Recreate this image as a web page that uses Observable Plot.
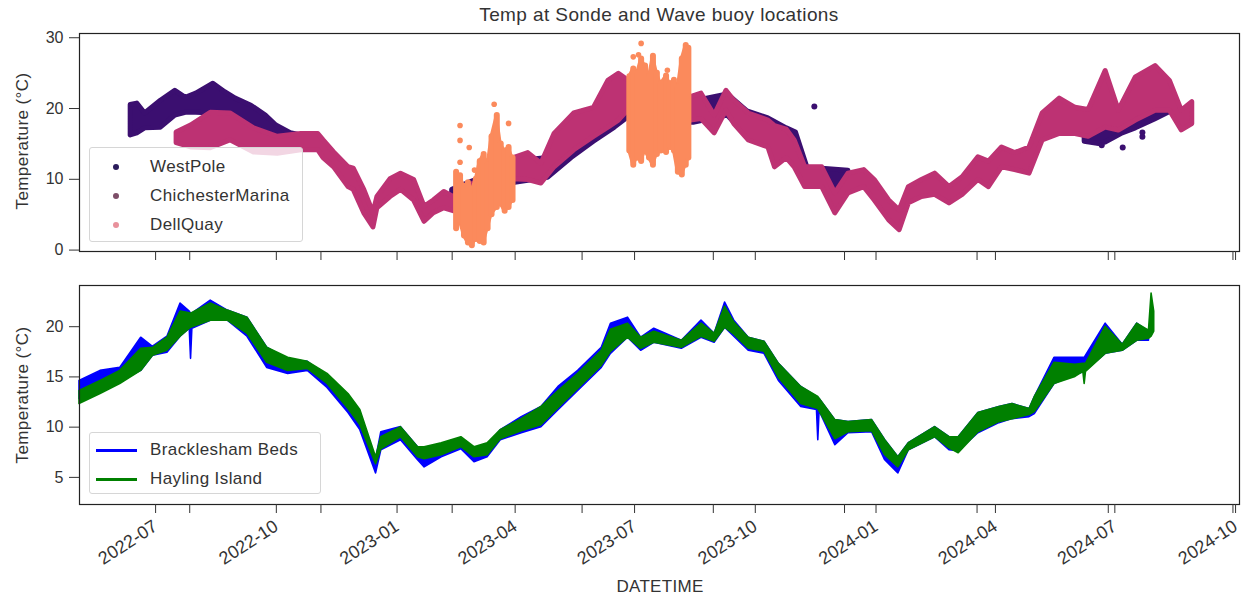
<!DOCTYPE html>
<html>
<head>
<meta charset="utf-8">
<script src="https://cdn.jsdelivr.net/npm/d3@7"></script>
<script src="https://cdn.jsdelivr.net/npm/@observablehq/plot@0.6"></script>
<style>
  body { margin: 0; background: #fff; font-family: "Liberation Sans", Arial, sans-serif; color: #333; }
  #fig { position: relative; width: 1241px; height: 598px; overflow: hidden; background: #fff; }
  #fig svg { position: absolute; left: 0; }
  .title { position: absolute; left: 0; width: 1318px; top: 4px; text-align: center; font-size: 19px; letter-spacing: 0.4px; }
  .xlabel { position: absolute; left: 0; width: 1320px; top: 577px; text-align: center; font-size: 17px; letter-spacing: 0.3px; }
  .ylabel { position: absolute; width: 200px; text-align: center; font-size: 17px; transform: rotate(-90deg); letter-spacing: 0.4px; }
  .legend { position: absolute; border: 1px solid #d6d6d6; border-radius: 3px; background: rgba(255,255,255,0.8); font-size: 17px; box-sizing: border-box; }
  .legend .row { position: absolute; left: 0; white-space: nowrap; }
  .legend .dot { position: absolute; width: 6px; height: 6px; border-radius: 50%; }
  .legend .swatch { position: absolute; width: 41px; height: 3px; }
  .legend .txt { position: absolute; left: 60px; top: -10px; letter-spacing: 0.4px; }
</style>
</head>
<body>
<div id="fig">
  <div class="title">Temp at Sonde and Wave buoy locations</div>
  <div class="ylabel" style="left:-77px; top:131px;">Temperature (°C)</div>
  <div class="ylabel" style="left:-77px; top:385px;">Temperature (°C)</div>
  <div class="xlabel">DATETIME</div>
</div>
<script>
// Sonde temperature bands: [date, low, high] in °C
const westPole2022 = [
  ["2022-06-12",16.2,20.5],["2022-06-17",16.5,20.7],["2022-06-23",17.2,19.3],["2022-07-05",17.3,21.1],
  ["2022-07-16",19.0,22.5],["2022-07-24",19.4,21.5],["2022-08-01",19.4,22.1],["2022-08-14",19.3,23.5],
  ["2022-08-23",19.3,22.3],["2022-08-31",18.6,21.4],["2022-09-12",17.6,20.4],["2022-09-23",16.2,19.0],
  ["2022-10-01",15.5,17.6],["2022-10-12",15.5,16.5],["2022-10-20",15.5,16.2]
];
const westPole2023 = [
  ["2023-02-12",6.5,8.5],["2023-03-10",8.0,10.5],["2023-04-01",9.5,12.5],["2023-04-26",10.2,13.0],
  ["2023-05-14",13.0,16.0],["2023-05-31",15.3,18.5],["2023-06-16",17.3,21.0],["2023-06-28",19.0,22.0],
  ["2023-07-25",18.0,21.5],["2023-08-15",18.0,21.0],["2023-09-10",19.0,22.0],["2023-09-25",16.0,19.6],
  ["2023-10-11",15.0,18.6],["2023-10-25",13.5,17.2],["2023-11-01",12.5,16.6],["2023-11-10",9.0,11.5],
  ["2023-11-21",9.0,11.5],["2023-12-11",8.5,11.2]
];
const westPole2024 = [
  ["2024-06-08",15.3,17.0],["2024-06-19",15.0,17.5],["2024-06-24",15.2,19.2],["2024-07-07",16.5,18.0],
  ["2024-07-17",17.2,19.0],["2024-08-01",18.5,20.5],["2024-08-12",19.5,21.0]
];
const westPoleSingles = [
  ["2023-11-15",20.3],["2024-06-21",14.8],["2024-07-07",14.5],["2024-07-22",16.6],["2024-07-22",16.0]
];
const chichesterMarina = [
  ["2022-07-17",15.1,16.6],["2022-07-28",14.5,17.6],["2022-08-12",14.4,19.4],["2022-08-27",15.5,19.3],
  ["2022-09-14",13.8,17.2],["2022-10-02",13.6,16.0],["2022-10-20",14.1,16.4],["2022-11-02",14.1,16.4],
  ["2022-11-06",13.0,15.5],["2022-11-14",11.7,13.8],["2022-11-25",8.9,11.7],["2022-11-29",8.5,11.5],
  ["2022-12-07",5.2,8.5],["2022-12-14",3.2,5.2],["2022-12-17",5.9,7.5],["2022-12-27",7.5,10.0],
  ["2023-01-04",8.5,10.8],["2023-01-14",7.0,9.9],["2023-01-22",4.0,6.1],["2023-01-29",5.2,7.0],
  ["2023-02-06",5.9,8.2],["2023-02-13",5.5,7.5],["2023-02-25",6.5,9.0],["2023-03-10",8.0,10.5],
  ["2023-03-31",10.0,13.0],["2023-04-11",9.9,13.7],["2023-04-21",9.4,12.2],["2023-05-01",11.7,16.4],
  ["2023-05-16",14.1,19.3],["2023-05-31",16.0,20.1],["2023-06-11",17.3,23.9],["2023-06-19",18.3,24.9],
  ["2023-06-26",19.7,24.0],["2023-07-20",18.5,22.5],["2023-08-13",18.3,21.6],["2023-08-21",18.5,22.1],
  ["2023-08-31",16.5,19.0],["2023-09-09",19.7,22.5],["2023-09-15",17.8,21.1],["2023-09-26",15.5,19.3],
  ["2023-10-11",14.5,18.3],["2023-10-16",11.7,17.5],["2023-10-25",13.0,17.0],["2023-10-31",11.7,15.5],
  ["2023-11-08",8.9,11.7],["2023-11-21",8.9,11.7],["2023-12-01",5.2,8.0],["2023-12-11",8.0,10.8],
  ["2023-12-23",8.9,11.3],["2023-12-31",7.0,9.9],["2024-01-11",4.2,7.0],["2024-01-19",2.8,5.6],
  ["2024-01-26",6.6,8.9],["2024-02-05",7.5,9.9],["2024-02-15",7.8,10.8],["2024-02-26",6.6,8.9],
  ["2024-03-07",7.8,10.3],["2024-03-19",9.9,13.1],["2024-03-27",8.9,12.5],["2024-04-06",11.7,14.5],
  ["2024-04-16",11.3,13.7],["2024-04-27",10.8,14.5],["2024-05-07",15.5,19.3],["2024-05-20",16.4,21.4],
  ["2024-06-01",16.4,20.1],["2024-06-11",16.0,19.8],["2024-06-24",17.3,25.3],["2024-07-04",16.9,19.7],
  ["2024-07-17",18.3,24.4],["2024-08-01",19.7,26.0],["2024-08-12",19.7,23.9],["2024-08-21",16.9,19.7],
  ["2024-08-29",17.8,20.9]
];
// DellQuay tidal spread: vertical ranges per few days, plus isolated readings
const dellQuayWinter = [
  ["2023-02-15",3.0,11.0],["2023-02-18",4.0,10.5],["2023-02-21",2.0,9.0],["2023-02-24",1.0,9.5],
  ["2023-02-27",0.6,8.5],["2023-03-02",1.5,10.0],["2023-03-05",1.2,12.5],["2023-03-08",1.0,13.5],
  ["2023-03-11",3.0,12.0],["2023-03-14",5.0,16.0],["2023-03-18",6.0,19.0],["2023-03-21",6.5,15.0],
  ["2023-03-24",5.5,14.0],["2023-03-27",6.0,14.5],["2023-03-30",7.0,13.0]
];
const dellQuaySummer = [
  ["2023-06-27",14.0,24.5],["2023-06-30",12.0,25.6],["2023-07-03",13.0,25.0],["2023-07-06",12.5,27.0],
  ["2023-07-09",14.0,26.0],["2023-07-12",13.0,24.5],["2023-07-15",12.0,27.4],["2023-07-18",13.5,25.0],
  ["2023-07-21",14.0,23.5],["2023-07-25",13.8,24.6],["2023-07-28",14.5,23.5],["2023-07-31",14.0,24.0],
  ["2023-08-03",11.0,23.0],["2023-08-06",10.6,27.0],["2023-08-09",12.0,28.9],["2023-08-11",13.0,28.5]
];
const dellQuaySingles = [
  ["2023-02-18",17.6],["2023-02-18",15.5],["2023-02-18",12.4],["2023-02-25",14.5],["2023-03-01",11.3],
  ["2023-03-16",20.6],["2023-03-27",17.9],["2023-07-06",29.2],["2023-06-30",27.3],["2023-07-04",27.6],
  ["2023-07-26",25.4]
];
// Wave buoy temperature bands: [date, low, high] in °C
const brackleshamBeds = [
  ["2022-05-04",12.8,14.6],["2022-05-20",13.5,15.6],["2022-06-04",14.5,15.9],["2022-06-20",15.6,18.9],
  ["2022-06-29",17.1,18.0],["2022-07-10",17.4,19.0],["2022-07-20",19.0,22.3],["2022-07-27",19.8,21.5],
  ["2022-07-28",16.8,21.3],["2022-07-29",19.8,21.3],["2022-08-12",20.6,22.6],["2022-08-25",20.6,21.6],
  ["2022-09-09",19.0,20.9],["2022-09-24",15.9,17.9],["2022-10-10",15.3,16.7],["2022-10-25",15.6,16.5],
  ["2022-11-09",13.9,15.0],["2022-11-25",11.4,13.0],["2022-12-04",9.7,11.5],["2022-12-16",5.4,6.8],
  ["2022-12-20",7.7,9.5],["2023-01-04",8.7,10.0],["2023-01-17",6.7,8.0],["2023-01-22",6.0,7.5],
  ["2023-02-04",7.0,8.0],["2023-02-19",7.8,8.8],["2023-03-01",6.5,7.8],["2023-03-11",7.0,8.0],
  ["2023-03-21",8.7,9.7],["2023-04-06",9.4,11.0],["2023-04-21",10.0,12.0],["2023-05-04",11.7,14.0],
  ["2023-05-19",13.6,15.6],["2023-06-06",15.9,17.9],["2023-06-13",17.3,20.3],["2023-06-26",18.9,20.9],
  ["2023-07-06",17.6,18.9],["2023-07-16",18.4,19.8],["2023-08-06",17.8,18.6],["2023-08-21",18.9,20.6],
  ["2023-08-31",18.4,19.3],["2023-09-08",19.9,22.4],["2023-09-15",19.0,20.6],["2023-09-26",17.6,18.9],
  ["2023-10-08",17.3,18.5],["2023-10-19",14.6,16.3],["2023-11-05",12.0,14.0],["2023-11-17",11.7,13.0],
  ["2023-11-18",8.7,12.8],["2023-11-19",11.6,12.8],["2023-12-01",8.2,10.7],["2023-12-11",9.4,10.5],
  ["2023-12-29",9.5,10.7],["2024-01-08",6.7,8.7],["2024-01-18",5.4,7.0],["2024-01-26",7.7,8.4],
  ["2024-02-15",9.0,10.0],["2024-02-26",7.7,9.0],["2024-03-04",7.6,9.0],["2024-03-19",9.4,11.4],
  ["2024-04-04",10.4,12.0],["2024-04-14",10.8,12.3],["2024-04-27",11.0,11.8],["2024-05-01",11.3,13.0],
  ["2024-05-16",14.3,16.9],["2024-06-01",15.2,16.9],["2024-06-08",15.5,16.9],["2024-06-24",17.3,20.3],
  ["2024-07-07",17.6,18.2],["2024-07-18",18.6,20.3],["2024-07-27",18.6,19.5]
];
const haylingIsland = [
  ["2022-05-04",12.3,13.6],["2022-05-20",13.3,14.6],["2022-06-04",14.3,15.6],["2022-06-20",15.6,17.8],
  ["2022-06-29",17.1,17.9],["2022-07-10",17.6,18.9],["2022-07-20",19.0,21.5],["2022-07-28",19.9,21.3],
  ["2022-08-12",20.6,22.3],["2022-08-25",20.6,21.6],["2022-09-09",19.3,20.9],["2022-09-24",16.4,17.9],
  ["2022-10-10",15.6,16.9],["2022-10-25",15.8,16.5],["2022-11-09",14.3,15.3],["2022-11-25",11.8,13.3],
  ["2022-12-04",10.2,11.7],["2022-12-16",6.3,7.0],["2022-12-20",7.8,9.0],["2023-01-04",9.0,10.0],
  ["2023-01-17",7.0,8.0],["2023-01-22",6.8,8.0],["2023-02-04",7.2,8.4],["2023-02-19",8.0,9.0],
  ["2023-03-01",7.0,8.0],["2023-03-11",7.2,8.4],["2023-03-21",8.8,9.7],["2023-04-06",9.6,10.8],
  ["2023-04-21",10.2,12.0],["2023-05-04",11.9,13.6],["2023-05-19",13.8,15.3],["2023-06-06",16.1,17.6],
  ["2023-06-13",17.5,19.7],["2023-06-26",18.9,20.3],["2023-07-06",17.8,18.9],["2023-07-16",18.4,19.5],
  ["2023-08-06",17.9,18.6],["2023-08-21",19.0,20.3],["2023-08-31",18.5,19.3],["2023-09-08",19.9,22.0],
  ["2023-09-15",19.2,20.4],["2023-09-26",17.8,18.9],["2023-10-08",17.5,18.5],["2023-10-19",14.9,16.3],
  ["2023-11-05",12.3,14.0],["2023-11-18",11.8,13.0],["2023-12-01",8.8,10.7],["2023-12-11",9.5,10.5],
  ["2023-12-29",9.6,10.7],["2024-01-08",7.2,8.7],["2024-01-18",6.0,7.0],["2024-01-26",7.7,8.4],
  ["2024-02-15",9.0,10.0],["2024-02-26",7.9,9.0],["2024-03-04",7.4,9.0],["2024-03-19",9.5,11.4],
  ["2024-04-04",10.5,12.0],["2024-04-14",10.8,12.3],["2024-04-27",11.2,11.8],["2024-05-01",11.5,13.0],
  ["2024-05-16",14.3,16.4],["2024-06-01",15.0,16.2],["2024-06-07",15.5,16.3],["2024-06-08",14.3,16.3],
  ["2024-06-09",15.5,16.3],["2024-06-24",17.3,20.0],["2024-07-07",17.6,18.2],["2024-07-18",18.6,20.3],
  ["2024-07-27",18.8,19.6],["2024-07-29",19.0,23.3],["2024-07-31",19.5,21.5]
];

// Axis settings
const dateDomain = ["2022-05-04", "2024-10-04"];
const quarterTicks = ["2022-07-01","2022-10-01","2023-01-01","2023-04-01","2023-07-01","2023-10-01","2024-01-01","2024-04-01","2024-07-01","2024-10-01"];
const extraTicks = ["2022-07-27","2022-11-04","2023-02-12","2023-05-22","2023-08-30","2023-12-08","2024-03-18","2024-06-26","2024-09-29"];
const topYTicks = [0, 10, 20, 30];
const bottomYTicks = [5, 10, 15, 20];
const topYDomain = [-0.2, 30.6];
const bottomYDomain = [2.3, 24.1];

const colors = {
  WestPole: "#3b0f70",
  ChichesterMarina: "#bd3273",
  DellQuay: "#fb8a5c",
  "Bracklesham Beds": "#0000ff",
  "Hayling Island": "#008000"
};

const toBand = a => a.map(([d, lo, hi]) => ({date: new Date(d), lo, hi}));
const toPoint = a => a.map(([d, v]) => ({date: new Date(d), v}));
const toDates = a => a.map(d => new Date(d));

const band = (rows, color, w) => Plot.areaY(toBand(rows), {
  x: "date", y1: "lo", y2: "hi", fill: color, stroke: color,
  strokeWidth: w, strokeLinejoin: "round", curve: "linear"
});
const spread = (rows, color) => Plot.ruleX(toBand(rows), {
  x: "date", y1: "lo", y2: "hi", stroke: color, strokeWidth: 6, strokeLinecap: "round"
});

const fontFamily = '"Liberation Sans", Arial, sans-serif';
const common = {
  width: 1241, marginLeft: 79, marginRight: 2,
  style: {fontFamily, fontSize: "16px", color: "#333", background: "transparent", overflow: "visible"},
  x: {type: "utc", domain: toDates(dateDomain)}
};

const topPlot = Plot.plot({
  ...common,
  height: 240, marginTop: 7, marginBottom: 15,
  y: {domain: topYDomain},
  marks: [
    band(westPole2022, colors.WestPole, 5),
    band(westPole2023, colors.WestPole, 5),
    band(westPole2024, colors.WestPole, 5),
    Plot.dot(toPoint(westPoleSingles), {x: "date", y: "v", r: 3, fill: colors.WestPole}),
    band(chichesterMarina, colors.ChichesterMarina, 5),
    band(dellQuayWinter, colors.DellQuay, 3),
    band(dellQuaySummer, colors.DellQuay, 3),
    spread(dellQuayWinter, colors.DellQuay),
    spread(dellQuaySummer, colors.DellQuay),
    Plot.dot(toPoint(dellQuaySingles), {x: "date", y: "v", r: 2.8, fill: colors.DellQuay}),
    Plot.frame({stroke: "#222", strokeWidth: 1.2}),
    Plot.axisX(toDates(quarterTicks), {tickSize: 9, tickFormat: () => "", label: null}),
    Plot.axisX(toDates(extraTicks), {tickSize: 9, tickFormat: () => "", label: null}),
    Plot.axisY(topYTicks, {tickSize: 10, tickPadding: 6, label: null})
  ]
});
topPlot.style.top = "26px";

const bottomPlot = Plot.plot({
  ...common,
  height: 328, marginTop: 15, marginBottom: 94,
  y: {domain: bottomYDomain},
  marks: [
    band(brackleshamBeds, colors["Bracklesham Beds"], 1.6),
    band(haylingIsland, colors["Hayling Island"], 1.6),
    Plot.frame({stroke: "#222", strokeWidth: 1.2}),
    Plot.axisX(toDates(quarterTicks), {tickSize: 9, tickPadding: 11, tickRotate: -33, fontSize: 18, tickFormat: d3.utcFormat("%Y-%m"), label: null}),
    Plot.axisX(toDates(extraTicks), {tickSize: 9, tickFormat: () => "", label: null}),
    Plot.axisY(bottomYTicks, {tickSize: 10, tickPadding: 6, label: null})
  ]
});
bottomPlot.style.top = "270px";

const fig = document.getElementById("fig");
fig.appendChild(topPlot);
fig.appendChild(bottomPlot);

// Legends
function legend(left, top, width, height, entries, kind, swatchColors) {
  const box = document.createElement("div");
  box.className = "legend";
  Object.assign(box.style, {left: left + "px", top: top + "px", width: width + "px", height: height + "px"});
  entries.forEach(([name, y], i) => {
    const row = document.createElement("div");
    row.className = "row";
    row.style.top = y + "px";
    const mark = document.createElement("div");
    if (kind === "dot") {
      mark.className = "dot";
      Object.assign(mark.style, {left: "23px", top: "-3px", background: swatchColors[i]});
    } else {
      mark.className = "swatch";
      Object.assign(mark.style, {left: "6px", top: "-1.5px", background: swatchColors[i]});
    }
    const txt = document.createElement("div");
    txt.className = "txt";
    txt.textContent = name;
    row.append(mark, txt);
    box.appendChild(row);
  });
  fig.appendChild(box);
}
legend(89, 147, 214, 95, [["WestPole", 19], ["ChichesterMarina", 48], ["DellQuay", 77]], "dot",
  ["#2b1c5c", "#7d4e68", "#e8919c"]);
legend(89, 432, 232, 62, [["Bracklesham Beds", 17], ["Hayling Island", 46]], "line",
  [colors["Bracklesham Beds"], colors["Hayling Island"]]);
</script>
</body>
</html>
